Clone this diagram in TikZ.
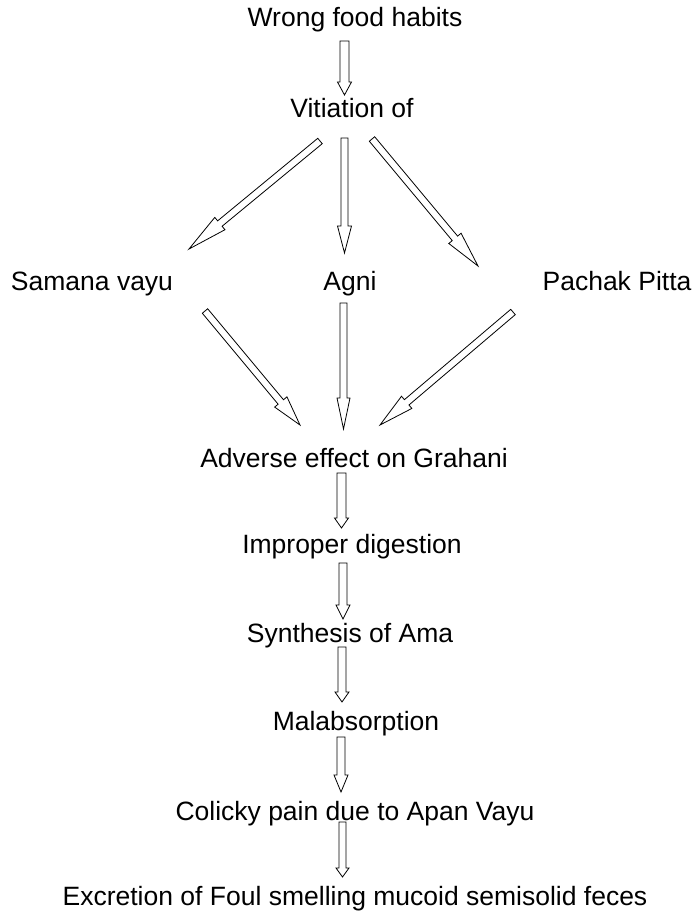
\documentclass[tikz,border=0pt]{standalone}
\usepackage{fontspec}
\setmainfont{Liberation Sans}
\usetikzlibrary{calc}
\tikzset{
  lbl/.style={anchor=base, inner sep=0pt, font=\fontsize{26.5}{31}\selectfont},
  barrow/.style={draw=black, line width=0.8pt, fill=white, line join=miter}
}
% #1 start, #2 tip, #3 shaft half width, #4 head half width, #5 head length
\newcommand{\blockarr}[5]{%
  \coordinate (tmpb) at ($(#2)!#5!(#1)$);
  \draw[barrow] ($(#1)!#3!90:(#2)$) -- ($(tmpb)!#3!90:(#2)$) -- ($(tmpb)!#4!90:(#2)$)
    -- (#2) -- ($(tmpb)!#4!-90:(#2)$) -- ($(tmpb)!#3!-90:(#2)$) -- ($(#1)!#3!-90:(#2)$) -- cycle;
}
\begin{document}
\begin{tikzpicture}[x=1pt,y=-1pt]
\useasboundingbox (0,0) rectangle (696,912);
\fill[white] (0,0) rectangle (696,912);

\node[lbl] (wrong) at (355,27) {Wrong food habits};
\node[lbl] (vit) at (352,118) {Vitiation of};
\node[lbl] (sam) at (92,290) {Samana vayu};
\node[lbl] (agni) at (350,290) {Agni};
\node[lbl] (pach) at (617,290) {Pachak Pitta};
\node[lbl] (adv) at (354,467) {Adverse effect on Grahani};
\node[lbl] (imp) at (352,553) {Improper digestion};
\node[lbl] (syn) at (350,642) {Synthesis of Ama};
\node[lbl] (mal) at (356,730) {Malabsorption};
\node[lbl] (col) at (355,820) {Colicky pain due to Apan Vayu};
\node[lbl] (exc) at (355,905) {Excretion of Foul smelling mucoid semisolid feces};

\coordinate (a1s) at (344.5,41);  \coordinate (a1t) at (344.5,95);
\coordinate (a2s) at (320,141);   \coordinate (a2t) at (189,249);
\coordinate (a3s) at (344.5,138); \coordinate (a3t) at (344.5,253);
\coordinate (a4s) at (372,139);   \coordinate (a4t) at (478,266);
\coordinate (a5s) at (205,311);   \coordinate (a5t) at (300,425);
\coordinate (a6s) at (343.5,303); \coordinate (a6t) at (343.5,429);
\coordinate (a7s) at (513,312);   \coordinate (a7t) at (380,425);
\coordinate (a8s) at (341.5,473); \coordinate (a8t) at (341.5,528);
\coordinate (a9s) at (343,563);   \coordinate (a9t) at (343,619);
\coordinate (a10s) at (342,647);  \coordinate (a10t) at (342,702);
\coordinate (a11s) at (341,737);  \coordinate (a11t) at (341,792);
\coordinate (a12s) at (342.5,822);\coordinate (a12t) at (342.5,877);

\blockarr{a1s}{a1t}{4.5pt}{7pt}{13pt}
\blockarr{a2s}{a2t}{3.5pt}{8pt}{40pt}
\blockarr{a3s}{a3t}{3.5pt}{7pt}{27pt}
\blockarr{a4s}{a4t}{3.5pt}{8pt}{36pt}
\blockarr{a5s}{a5t}{3.5pt}{8pt}{30pt}
\blockarr{a6s}{a6t}{3.5pt}{6.5pt}{31pt}
\blockarr{a7s}{a7t}{3.5pt}{8pt}{35pt}
\blockarr{a8s}{a8t}{4.5pt}{7pt}{10pt}
\blockarr{a9s}{a9t}{4pt}{7pt}{14pt}
\blockarr{a10s}{a10t}{4pt}{7pt}{10pt}
\blockarr{a11s}{a11t}{4pt}{7pt}{17pt}
\blockarr{a12s}{a12t}{3.5pt}{6.5pt}{9pt}
\end{tikzpicture}
\end{document}
